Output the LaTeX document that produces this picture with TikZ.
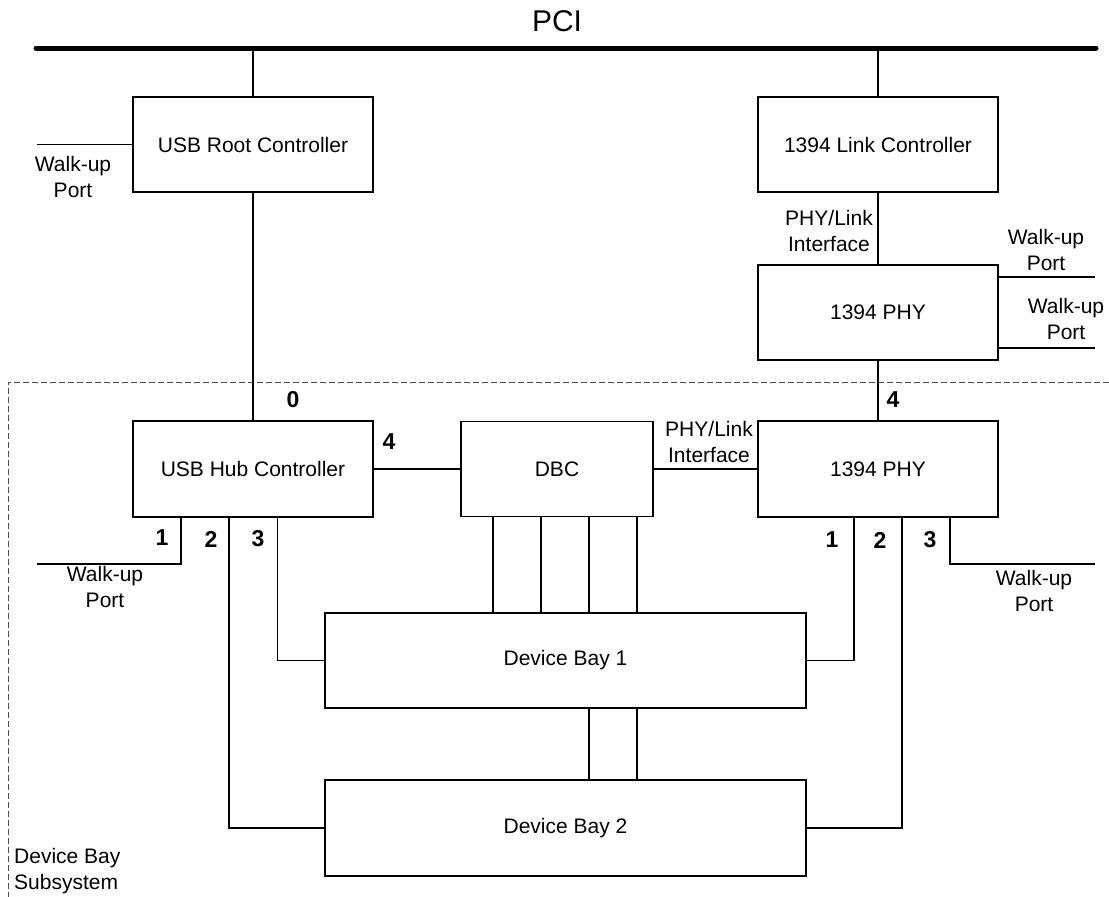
\documentclass[tikz,border=0pt]{standalone}
\usepackage{fontspec}
\setmainfont{Liberation Sans}
\begin{document}
\begin{tikzpicture}[x=1pt,y=-1pt,
  box/.style={draw,line width=1.1pt,inner sep=0pt,outer sep=0pt,font=\fontsize{21}{25}\selectfont},
  wire/.style={line width=1.2pt},
  lbl/.style={inner sep=0pt,align=center,font=\fontsize{21}{26}\selectfont},
  num/.style={inner sep=0pt,font=\fontsize{23}{26}\selectfont\bfseries}]
\useasboundingbox (0,0) rectangle (1109,897);
% subsystem boundary
\coordinate (sbR) at (1109,382);
\coordinate (sbC) at (8,382);
\coordinate (sbB) at (8,897);
\draw[line width=1pt,dash pattern=on 6pt off 3pt,black!70] (sbR) -- (sbC) -- (sbB);
% PCI bus
\coordinate (busL) at (36,48);
\coordinate (busR) at (1096,48);
\draw[line width=5pt,line cap=round] (busL) -- (busR);
\node[inner sep=0pt,font=\fontsize{30}{34}\selectfont] (pci) at (557,21) {PCI};
% boxes
\node[box,minimum width=240pt,minimum height=95pt] (root) at (253,144.5) {USB Root Controller};
\node[box,minimum width=240pt,minimum height=95pt] (link) at (878,144.5) {1394 Link Controller};
\node[box,minimum width=240pt,minimum height=95pt] (phyA) at (878,312.5) {1394 PHY};
\node[box,minimum width=240pt,minimum height=96pt] (hub) at (253,469) {USB Hub Controller};
\node[box,minimum width=192pt,minimum height=95pt] (dbc) at (557,469) {DBC};
\node[box,minimum width=240pt,minimum height=96pt] (phyB) at (878,469) {1394 PHY};
\node[box,minimum width=481pt,minimum height=95pt] (db1) at (565.5,660.5) {Device Bay 1};
\node[box,minimum width=481pt,minimum height=96pt] (db2) at (565.5,828) {Device Bay 2};
% top connectors
\draw[wire] (root.north) -- (root.north |- busL);
\draw[wire] (link.north) -- (link.north |- busL);
\coordinate (wl1) at (37,144.5);
\draw[wire] (root.west) -- (wl1);
\draw[wire] (root.south) -- (hub.north);
\draw[wire] (link.south) -- (phyA.north);
\coordinate (wr1) at (1095,277);
\coordinate (wr2) at (1095,348);
\draw[wire] (wr1 -| phyA.east) -- (wr1);
\draw[wire] (wr2 -| phyA.east) -- (wr2);
\draw[wire] (phyA.south) -- (phyB.north);
\draw[wire] (hub.east) -- (dbc.west);
\draw[wire] (dbc.east) -- (phyB.west);
% hub ports
\coordinate (c1) at (181,564);
\coordinate (wl2) at (37,564);
\coordinate (c2) at (229,828);
\coordinate (c3) at (277.5,660.5);
\draw[wire] (c1 |- hub.south) -- (c1) -- (wl2);
\draw[wire] (c2 |- hub.south) -- (c2) -- (db2.west);
\draw[wire] (c3 |- hub.south) -- (c3) -- (db1.west);
% phy ports
\coordinate (c4) at (854,660.5);
\coordinate (c5) at (902,828);
\coordinate (c6) at (950,564);
\coordinate (wr3) at (1095,564);
\draw[wire] (c4 |- phyB.south) -- (c4) -- (db1.east);
\draw[wire] (c5 |- phyB.south) -- (c5) -- (db2.east);
\draw[wire] (c6 |- phyB.south) -- (c6) -- (wr3);
% DBC to bays
\foreach \x/\n in {493/a,541/b,589/c,637/d}{
  \coordinate (bx\n) at (\x,600);
  \draw[wire] (bx\n |- dbc.south) -- (bx\n |- db1.north);
}
\draw[wire] (bxc |- db1.south) -- (bxc |- db2.north);
\draw[wire] (bxd |- db1.south) -- (bxd |- db2.north);
% labels
\node[lbl] (lwl1) at (73,177) {Walk-up\\Port};
\node[lbl] (lpl1) at (829,231) {PHY/Link\\Interface};
\node[lbl] (lwr1) at (1046,250) {Walk-up\\Port};
\node[lbl] (lwr2) at (1066,319) {Walk-up\\Port};
\node[num] (n0) at (293,400) {0};
\node[num] (n4a) at (893,400) {4};
\node[num] (n4b) at (389,442) {4};
\node[lbl] (lpl2) at (709,442) {PHY/Link\\Interface};
\node[num] (n1a) at (162,538) {1};
\node[num] (n2a) at (211,539) {2};
\node[num] (n3a) at (258,539) {3};
\node[lbl] (lwl2) at (105,587) {Walk-up\\Port};
\node[num] (n1b) at (832,540) {1};
\node[num] (n2b) at (880,540) {2};
\node[num] (n3b) at (930,540) {3};
\node[lbl] (lwr3) at (1034,591) {Walk-up\\Port};
\node[lbl,align=left,anchor=west] (lsub) at (14,871) {Device Bay\\Subsystem};
\end{tikzpicture}
\end{document}
